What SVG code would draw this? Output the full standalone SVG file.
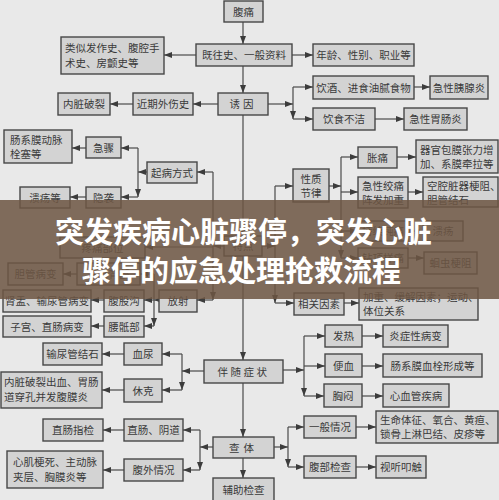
<svg xmlns="http://www.w3.org/2000/svg" width="499" height="500" viewBox="0 0 499 500">
<style>
.b rect{fill:#d3d3d3;stroke:#474747;stroke-width:1.4}
text{font-family:"Noto Sans CJK SC","Noto Sans",sans-serif;font-size:10.5px;fill:#3a3a3a}
.m{text-anchor:middle}
.c line,.c polyline{stroke:#4a4a4a;stroke-width:1.2;fill:none}
.ttl{font-size:29px;font-weight:bold;fill:#ffffff}
</style>
<defs>
<marker id="a" markerUnits="userSpaceOnUse" markerWidth="8" markerHeight="6" refX="8" refY="3" orient="auto">
<path d="M0,0 L8,3 L0,6 z" fill="#3c3c3c"/>
</marker>
</defs>
<rect x="0" y="0" width="499" height="500" fill="#e9e9e9"/>

<g class="c" marker-end="url(#a)">
<line x1="243" y1="22" x2="243" y2="44" marker-end="url(#a)"/>
<line x1="243" y1="66" x2="243" y2="93" marker-end="url(#a)"/>
<line x1="243" y1="115" x2="243" y2="236" marker-end="url(#a)"/>
<line x1="243" y1="256" x2="243" y2="360" marker-end="url(#a)"/>
<line x1="243" y1="383" x2="243" y2="437" marker-end="url(#a)"/>
<line x1="243" y1="458" x2="243" y2="478" marker-end="url(#a)"/>
<line x1="196" y1="55" x2="164" y2="55" marker-end="url(#a)"/>
<line x1="292" y1="55" x2="313" y2="55" marker-end="url(#a)"/>
<line x1="218" y1="104" x2="193" y2="104" marker-end="url(#a)"/>
<line x1="133" y1="104" x2="110" y2="104" marker-end="url(#a)"/>
<line x1="268" y1="104" x2="293" y2="104"/>
<line x1="293" y1="87" x2="293" y2="119"/>
<line x1="293" y1="87" x2="313" y2="87" marker-end="url(#a)"/>
<line x1="293" y1="119" x2="313" y2="119" marker-end="url(#a)"/>
<line x1="414" y1="87" x2="430" y2="87" marker-end="url(#a)"/>
<line x1="375" y1="119" x2="404" y2="119" marker-end="url(#a)"/>
<line x1="224" y1="246" x2="213" y2="246"/>
<line x1="213" y1="172" x2="213" y2="300"/>
<line x1="213" y1="172" x2="197" y2="172" marker-end="url(#a)"/>
<line x1="213" y1="247" x2="145" y2="247" marker-end="url(#a)"/>
<line x1="213" y1="300" x2="197" y2="300" marker-end="url(#a)"/>
<line x1="147" y1="172" x2="138" y2="172"/>
<line x1="138" y1="148" x2="138" y2="197"/>
<line x1="138" y1="148" x2="121" y2="148" marker-end="url(#a)"/>
<line x1="138" y1="197" x2="121" y2="197" marker-end="url(#a)"/>
<line x1="86" y1="148" x2="72" y2="148" marker-end="url(#a)"/>
<line x1="86" y1="197" x2="70" y2="197" marker-end="url(#a)"/>
<line x1="159" y1="300" x2="154" y2="300"/>
<line x1="154" y1="274" x2="154" y2="326"/>
<line x1="154" y1="274" x2="140" y2="274" marker-end="url(#a)"/>
<line x1="154" y1="300" x2="144" y2="300" marker-end="url(#a)"/>
<line x1="154" y1="326" x2="144" y2="326" marker-end="url(#a)"/>
<line x1="77" y1="274" x2="63" y2="274" marker-end="url(#a)"/>
<line x1="104" y1="300" x2="91" y2="300" marker-end="url(#a)"/>
<line x1="104" y1="326" x2="91" y2="326" marker-end="url(#a)"/>
<line x1="262" y1="246" x2="275" y2="246"/>
<line x1="275" y1="186" x2="275" y2="303"/>
<line x1="275" y1="186" x2="293" y2="186" marker-end="url(#a)"/>
<line x1="275" y1="303" x2="294" y2="303" marker-end="url(#a)"/>
<line x1="329" y1="186" x2="341" y2="186"/>
<line x1="341" y1="157" x2="341" y2="258"/>
<line x1="341" y1="157" x2="358" y2="157" marker-end="url(#a)"/>
<line x1="341" y1="192" x2="358" y2="192" marker-end="url(#a)"/>
<line x1="341" y1="231" x2="358" y2="231" marker-end="url(#a)"/>
<line x1="341" y1="258" x2="358" y2="258" marker-end="url(#a)"/>
<line x1="397" y1="157" x2="416" y2="157" marker-end="url(#a)"/>
<line x1="408" y1="192" x2="423" y2="192" marker-end="url(#a)"/>
<line x1="408" y1="231" x2="423" y2="231" marker-end="url(#a)"/>
<line x1="408" y1="258" x2="424" y2="258" marker-end="url(#a)"/>
<line x1="344" y1="303" x2="359" y2="303" marker-end="url(#a)"/>
<line x1="283" y1="370" x2="304" y2="370"/>
<line x1="304" y1="336" x2="304" y2="396"/>
<line x1="304" y1="336" x2="325" y2="336" marker-end="url(#a)"/>
<line x1="304" y1="366" x2="325" y2="366" marker-end="url(#a)"/>
<line x1="304" y1="396" x2="324" y2="396" marker-end="url(#a)"/>
<line x1="362" y1="336" x2="383" y2="336" marker-end="url(#a)"/>
<line x1="362" y1="366" x2="383" y2="366" marker-end="url(#a)"/>
<line x1="362" y1="396" x2="383" y2="396" marker-end="url(#a)"/>
<line x1="204" y1="371" x2="182" y2="371"/>
<line x1="182" y1="354" x2="182" y2="390"/>
<line x1="182" y1="354" x2="162" y2="354" marker-end="url(#a)"/>
<line x1="182" y1="390" x2="162" y2="390" marker-end="url(#a)"/>
<line x1="124" y1="354" x2="102" y2="354" marker-end="url(#a)"/>
<line x1="124" y1="390" x2="102" y2="390" marker-end="url(#a)"/>
<line x1="213" y1="447" x2="200" y2="447"/>
<line x1="200" y1="430" x2="200" y2="470"/>
<line x1="200" y1="430" x2="183" y2="430" marker-end="url(#a)"/>
<line x1="200" y1="470" x2="183" y2="470" marker-end="url(#a)"/>
<line x1="124" y1="430" x2="103" y2="430" marker-end="url(#a)"/>
<line x1="124" y1="470" x2="103" y2="470" marker-end="url(#a)"/>
<line x1="274" y1="447" x2="288" y2="447"/>
<line x1="288" y1="427" x2="288" y2="467"/>
<line x1="288" y1="427" x2="304" y2="427" marker-end="url(#a)"/>
<line x1="288" y1="467" x2="304" y2="467" marker-end="url(#a)"/>
<line x1="356" y1="427" x2="376" y2="427" marker-end="url(#a)"/>
<line x1="356" y1="467" x2="376" y2="467" marker-end="url(#a)"/>
</g>

<g class="b">
<g id="n1"><rect x="224" y="1" width="39" height="21"/><text class="m" x="243.5" y="15.5">腹痛</text></g>
<g id="n2"><rect x="196" y="44" width="96" height="22"/><text class="m" x="244" y="59">既往史、一般资料</text></g>
<g id="n3"><rect x="61" y="37" width="103" height="37"/><text x="65" y="52">类似发作史、腹腔手</text><text x="65" y="67">术史、房颤史等</text></g>
<g id="n4"><rect x="313" y="44" width="101" height="22"/><text class="m" x="363.5" y="59">年龄、性别、职业等</text></g>
<g id="n5"><rect x="218" y="93" width="50" height="22"/><text class="m" x="243" y="108" letter-spacing="3">诱因</text></g>
<g id="n6"><rect x="133" y="93" width="60" height="22"/><text class="m" x="163" y="108">近期外伤史</text></g>
<g id="n7"><rect x="58" y="93" width="52" height="22"/><text class="m" x="84" y="108">内脏破裂</text></g>
<g id="n8"><rect x="313" y="76" width="101" height="23"/><text class="m" x="363.5" y="91.5">饮酒、进食油腻食物</text></g>
<g id="n9"><rect x="430" y="76" width="58" height="23"/><text class="m" x="459" y="91.5">急性胰腺炎</text></g>
<g id="n10"><rect x="313" y="108" width="62" height="22"/><text class="m" x="344" y="123">饮食不洁</text></g>
<g id="n11"><rect x="404" y="108" width="63" height="22"/><text class="m" x="435.5" y="123">急性胃肠炎</text></g>
<g id="n12"><rect x="147" y="162" width="50" height="21"/><text class="m" x="172" y="176.5">起病方式</text></g>
<g id="n13"><rect x="86" y="137" width="35" height="21"/><text class="m" x="103.5" y="151.5">急骤</text></g>
<g id="n14"><rect x="4" y="130" width="68" height="33"/><text x="10" y="144">肠系膜动脉</text><text x="10" y="158">栓塞等</text></g>
<g id="n15"><rect x="86" y="187" width="35" height="21"/><text class="m" x="103.5" y="201.5">隐袭</text></g>
<g id="n16"><rect x="20" y="187" width="50" height="21"/><text class="m" x="45" y="201.5">溃疡等</text></g>
<g id="n17"><rect x="293" y="169" width="36" height="33"/><text class="m" x="311" y="183">性质</text><text class="m" x="311" y="197">节律</text></g>
<g id="n18"><rect x="358" y="147" width="39" height="21"/><text class="m" x="377.5" y="161.5">胀痛</text></g>
<g id="n19"><rect x="416" y="140" width="82" height="33"/><text x="420" y="154">器官包膜张力增</text><text x="420" y="168">加、系膜牵拉等</text></g>
<g id="n20"><rect x="358" y="177" width="50" height="31"/><text class="m" x="383" y="190">急性绞痛</text><text class="m" x="383" y="204">阵发加重</text></g>
<g id="n21"><rect x="423" y="177" width="75" height="30"/><text x="427" y="190">空腔脏器梗阻、</text><text x="427" y="204">胆管结石</text></g>
<g id="n22"><rect x="358" y="221" width="50" height="20"/><text class="m" x="383" y="235">持续钝痛</text></g>
<g id="n23"><rect x="423" y="221" width="40" height="20"/><text class="m" x="443" y="235">溃疡</text></g>
<g id="n24"><rect x="358" y="248" width="50" height="20"/><text class="m" x="383" y="262">钻顶样痛</text></g>
<g id="n25"><rect x="424" y="252" width="53" height="22"/><text class="m" x="450.5" y="267">蛔虫梗阻</text></g>
<g id="n26"><rect x="294" y="293" width="50" height="22"/><text class="m" x="319" y="308">相关因素</text></g>
<g id="n27"><rect x="359" y="288" width="119" height="32"/><text x="363" y="301">加重、缓解因素；运动、</text><text x="363" y="315">体位关系</text></g>
<g id="n28"><rect x="224" y="236" width="38" height="20"/><text class="m" x="243" y="250">特点</text></g>
<g id="n29"><rect x="60" y="237" width="85" height="21"/><text class="m" x="102.5" y="251.5">疼痛部位</text></g>
<g id="n30"><rect x="77" y="263" width="63" height="22"/><text class="m" x="108.5" y="278">右肩背部</text></g>
<g id="n31"><rect x="8" y="263" width="55" height="22"/><text class="m" x="35.5" y="278">胆管病变</text></g>
<g id="n32"><rect x="159" y="290" width="38" height="22"/><text class="m" x="178" y="305">放射</text></g>
<g id="n33"><rect x="104" y="290" width="40" height="22"/><text class="m" x="124" y="305">腹股沟</text></g>
<g id="n34"><rect x="3" y="290" width="88" height="22"/><text class="m" x="47" y="305">肾盂、输尿管病变</text></g>
<g id="n35"><rect x="104" y="316" width="40" height="21"/><text class="m" x="124" y="330.5">腰骶部</text></g>
<g id="n36"><rect x="3" y="316" width="88" height="21"/><text class="m" x="47" y="330.5">子宫、直肠病变</text></g>
<g id="n37"><rect x="204" y="360" width="79" height="23"/><text class="m" x="243.5" y="375.5" letter-spacing="2.5">伴随症状</text></g>
<g id="n38"><rect x="124" y="343" width="38" height="22"/><text class="m" x="143" y="358">血尿</text></g>
<g id="n39"><rect x="43" y="343" width="59" height="22"/><text class="m" x="72.5" y="358">输尿管结石</text></g>
<g id="n40"><rect x="124" y="379" width="38" height="23"/><text class="m" x="143" y="394.5">休克</text></g>
<g id="n41"><rect x="1" y="372" width="101" height="36"/><text x="4" y="386">内脏破裂出血、胃肠</text><text x="4" y="401">道穿孔并发腹膜炎</text></g>
<g id="n42"><rect x="325" y="325" width="37" height="22"/><text class="m" x="343.5" y="340">发热</text></g>
<g id="n43"><rect x="383" y="325" width="65" height="22"/><text class="m" x="415.5" y="340">炎症性病变</text></g>
<g id="n44"><rect x="325" y="354" width="37" height="23"/><text class="m" x="343.5" y="369.5">便血</text></g>
<g id="n45"><rect x="383" y="354" width="99" height="23"/><text class="m" x="432.5" y="369.5">肠系膜血栓形成等</text></g>
<g id="n46"><rect x="324" y="384" width="38" height="23"/><text class="m" x="343" y="399.5">胸闷</text></g>
<g id="n47"><rect x="383" y="384" width="66" height="23"/><text class="m" x="416" y="399.5">心血管疾病</text></g>
<g id="n48"><rect x="213" y="437" width="61" height="21"/><text class="m" x="243.5" y="451.5" letter-spacing="4">查体</text></g>
<g id="n49"><rect x="124" y="419" width="59" height="22"/><text class="m" x="153.5" y="434">直肠、阴道</text></g>
<g id="n50"><rect x="43" y="419" width="60" height="22"/><text class="m" x="73" y="434">直肠指检</text></g>
<g id="n51"><rect x="124" y="459" width="59" height="22"/><text class="m" x="153.5" y="474">腹外情况</text></g>
<g id="n52"><rect x="7" y="451" width="96" height="37"/><text x="13" y="466">心肌梗死、主动脉</text><text x="13" y="481">夹层、胸膜炎等</text></g>
<g id="n53"><rect x="304" y="416" width="52" height="22"/><text class="m" x="330" y="431">一般情况</text></g>
<g id="n54"><rect x="376" y="411" width="122" height="32"/><text x="380" y="424">生命体征、氧合、黄疸、</text><text x="380" y="438">锁骨上淋巴结、皮疹等</text></g>
<g id="n55"><rect x="304" y="456" width="52" height="22"/><text class="m" x="330" y="471">腹部检查</text></g>
<g id="n56"><rect x="376" y="456" width="50" height="22"/><text class="m" x="401" y="471">视听叩触</text></g>
<g id="n57"><rect x="213" y="478" width="61" height="23"/><text class="m" x="243.5" y="493.5">辅助检查</text></g>
</g>

<g id="banner">
<rect x="0" y="200" width="499" height="99" fill="#6e5644" fill-opacity="0.86"/>
<text class="ttl" x="55" y="243">突发疾病心脏骤停，突发心脏</text>
<text class="ttl" x="82" y="282">骤停的应急处理抢救流程</text>
</g>
</svg>
